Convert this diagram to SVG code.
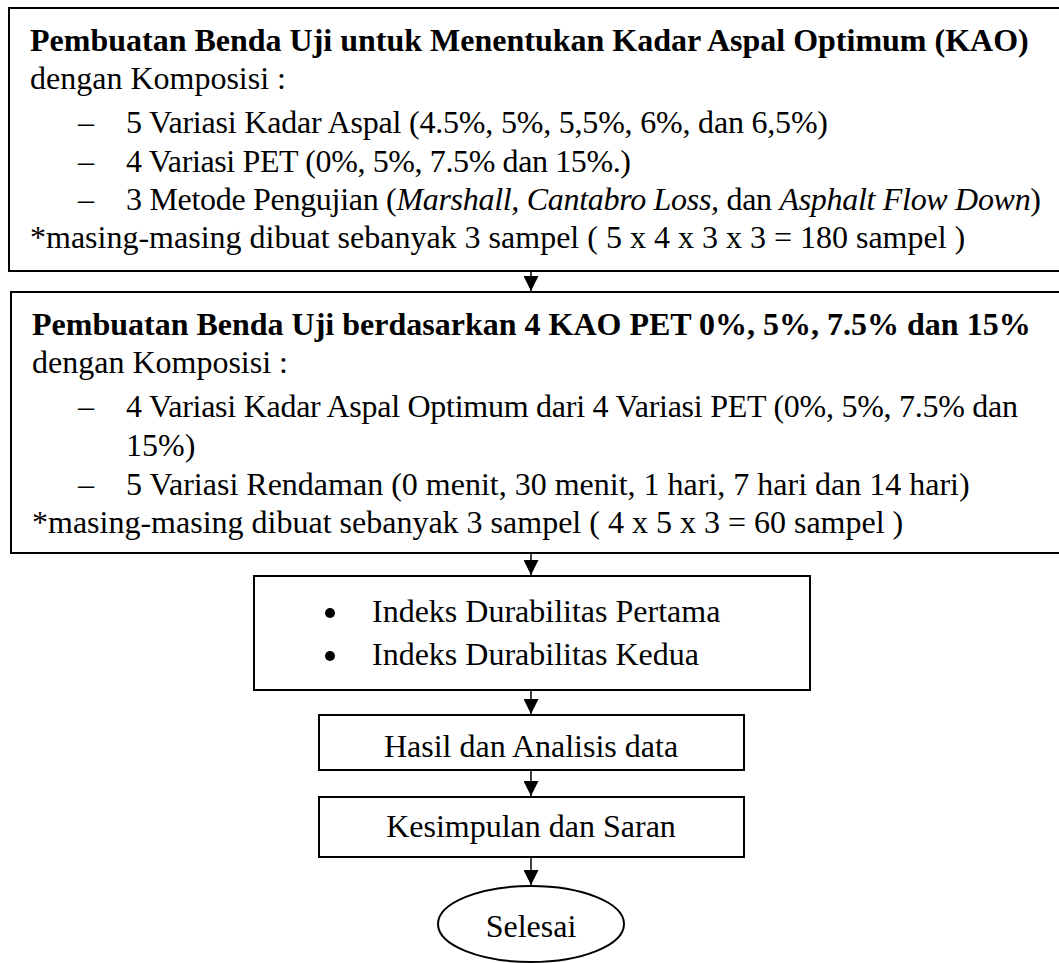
<svg xmlns="http://www.w3.org/2000/svg" width="1059" height="963" viewBox="0 0 1059 963">
<style>
.box{fill:#fff;stroke:#000;stroke-width:2}
.t{font-family:"Liberation Serif","Times New Roman",serif;font-size:32px;fill:#000}
.b{font-weight:bold}
.i{font-style:italic}
.m{text-anchor:middle}
.conn{stroke:#000;stroke-width:1.5;fill:none}
</style>
<defs>
<marker id="ah" markerUnits="userSpaceOnUse" markerWidth="15" markerHeight="15" viewBox="0 0 15 15" refX="15" refY="7.5" orient="auto">
<path d="M0,0 L15,7.5 L0,15 Z" fill="#000"/>
</marker>
</defs>
<rect width="1059" height="963" fill="#fff"/>
<g id="node1">
<rect class="box" x="9" y="8" width="1070" height="263"/>
<text class="t b" x="30" y="51">Pembuatan Benda Uji untuk Menentukan Kadar Aspal Optimum (KAO)</text>
<text class="t" x="30" y="89">dengan Komposisi :</text>
<text class="t" x="78" y="133">–</text>
<text class="t" x="126" y="133" textLength="702" lengthAdjust="spacing">5 Variasi Kadar Aspal (4.5%, 5%, 5,5%, 6%, dan 6,5%)</text>
<text class="t" x="78" y="172">–</text>
<text class="t" x="126" y="172" textLength="505" lengthAdjust="spacing">4 Variasi PET (0%, 5%, 7.5% dan 15%.)</text>
<text class="t" x="78" y="210">–</text>
<text class="t" x="126" y="210" textLength="915" lengthAdjust="spacing">3 Metode Pengujian (<tspan class="i">Marshall, Cantabro Loss,</tspan> dan <tspan class="i">Asphalt Flow Down</tspan>)</text>
<text class="t" x="30" y="248">*masing-masing dibuat sebanyak 3 sampel ( 5 x 4 x 3 x 3 = 180 sampel )</text>
</g>
<g id="node2">
<rect class="box" x="11" y="292" width="1070" height="261"/>
<text class="t b" x="32" y="335">Pembuatan Benda Uji berdasarkan 4 KAO PET 0%, 5%, 7.5% dan 15%</text>
<text class="t" x="32" y="373">dengan Komposisi :</text>
<text class="t" x="78" y="417">–</text>
<text class="t" x="126" y="417" textLength="892" lengthAdjust="spacing">4 Variasi Kadar Aspal Optimum dari 4 Variasi PET (0%, 5%, 7.5% dan</text>
<text class="t" x="126" y="456">15%)</text>
<text class="t" x="78" y="495">–</text>
<text class="t" x="126" y="495">5 Variasi Rendaman (0 menit, 30 menit, 1 hari, 7 hari dan 14 hari)</text>
<text class="t" x="32" y="533">*masing-masing dibuat sebanyak 3 sampel ( 4 x 5 x 3  = 60 sampel )</text>
</g>
<g id="node3">
<rect class="box" x="254" y="576" width="556" height="114"/>
<circle cx="330" cy="613" r="5"/>
<circle cx="330" cy="656" r="5"/>
<text class="t" x="372" y="622">Indeks Durabilitas Pertama</text>
<text class="t" x="372" y="665">Indeks Durabilitas Kedua</text>
</g>
<g id="node4">
<rect class="box" x="319" y="715" width="425" height="55"/>
<text class="t m" x="531" y="757">Hasil dan Analisis data</text>
</g>
<g id="node5">
<rect class="box" x="319" y="797" width="425" height="60"/>
<text class="t m" x="531" y="837">Kesimpulan dan Saran</text>
</g>
<g id="node6">
<ellipse class="box" cx="531" cy="924" rx="93" ry="38"/>
<text class="t m" x="531" y="937">Selesai</text>
</g>
<g id="connectors">
<line class="conn" x1="531" y1="272" x2="531" y2="291" marker-end="url(#ah)"/>
<line class="conn" x1="531" y1="554" x2="531" y2="575" marker-end="url(#ah)"/>
<line class="conn" x1="531" y1="691" x2="531" y2="714" marker-end="url(#ah)"/>
<line class="conn" x1="531" y1="771" x2="531" y2="796" marker-end="url(#ah)"/>
<line class="conn" x1="531" y1="858" x2="531" y2="885" marker-end="url(#ah)"/>
</g>
</svg>
